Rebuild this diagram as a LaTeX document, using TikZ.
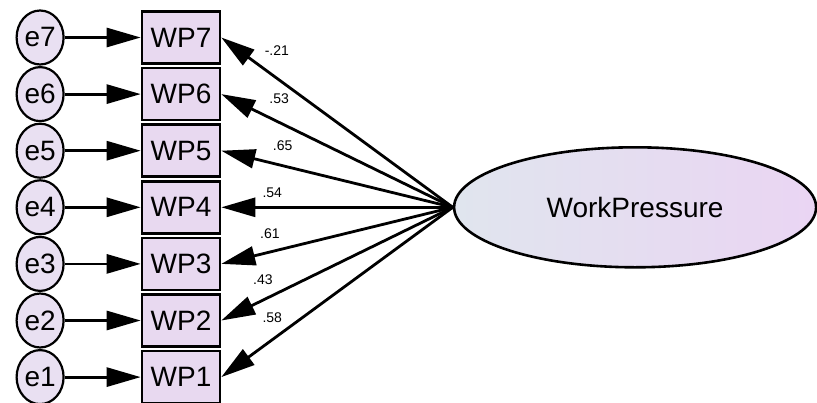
\documentclass[tikz,border=0pt]{standalone}
\usepackage{fontspec}
\setmainfont{Liberation Sans}
\usetikzlibrary{positioning, shapes.geometric, arrows.meta}
\definecolor{boxfill}{HTML}{E8D9F0}
\definecolor{errfill}{HTML}{E9E0F2}
\definecolor{latleft}{HTML}{E0E5EE}
\definecolor{latright}{HTML}{EAD5F3}
\tikzstyle{observed} = [rectangle, minimum width=78pt, minimum height=52pt, inner sep=0pt, draw=black, line width=2.6pt, fill=boxfill, font=\fontsize{28}{30}\selectfont]
\tikzstyle{residual} = [ellipse, minimum width=47pt, minimum height=54pt, inner sep=0pt, draw=black, line width=2.2pt, fill=errfill, font=\fontsize{28}{30}\selectfont]
\tikzstyle{latent} = [ellipse, minimum width=362pt, minimum height=120pt, draw=black, line width=2.6pt, left color=latleft, right color=latright, font=\fontsize{28}{30}\selectfont]
\tikzstyle{connector} = [draw, line width=2.8pt, -{Triangle[length=34pt, width=19pt]}]
\tikzstyle{loading} = [inner sep=0pt, font=\fontsize{14}{16}\selectfont]

\begin{document}
\begin{tikzpicture}[x=1pt, y=-1pt, node distance=2pt and 76pt]
    \useasboundingbox (0,0) rectangle (817,402);
    % Indicators
    \node [observed] (WP7) at (181,37.5) {WP7};
    \node [observed, below=of WP7] (WP6) {WP6};
    \node [observed, below=of WP6] (WP5) {WP5};
    \node [observed, below=of WP5] (WP4) {WP4};
    \node [observed, below=of WP4] (WP3) {WP3};
    \node [observed, below=of WP3] (WP2) {WP2};
    \node [observed, below=of WP2] (WP1) {WP1};

    % Error terms
    \node [residual, left=of WP7] (e7) {e7};
    \node [residual, left=of WP6] (e6) {e6};
    \node [residual, left=of WP5] (e5) {e5};
    \node [residual, left=of WP4] (e4) {e4};
    \node [residual, left=of WP3] (e3) {e3};
    \node [residual, left=of WP2] (e2) {e2};
    \node [residual, left=of WP1] (e1) {e1};

    % Latent factor
    \node [latent, right=231.5pt of WP4] (wp) {WorkPressure};

    % Arrows
    \path [connector] (e7) -- (WP7);
    \path [connector] (e6) -- (WP6);
    \path [connector] (e5) -- (WP5);
    \path [connector] (e4) -- (WP4);
    \path [connector] (e3) -- (WP3);
    \path [connector] (e2) -- (WP2);
    \path [connector] (e1) -- (WP1);

    % Loadings
    \path [connector] (wp.west) -- node[loading, pos=.76, yshift=28pt] (l7) {-.21} (WP7.east);
    \path [connector] (wp.west) -- node[loading, pos=.75, yshift=24pt] (l6) {.53} (WP6.east);
    \path [connector] (wp.west) -- node[loading, pos=.735, yshift=20pt] (l5) {.65} (WP5.east);
    \path [connector] (wp.west) -- node[loading, pos=.78, yshift=15pt] (l4) {.54} (WP4.east);
    \path [connector] (wp.west) -- node[loading, pos=.79, yshift=18pt] (l3) {.61} (WP3.east);
    \path [connector] (wp.west) -- node[loading, pos=.82, yshift=20pt] (l2) {.43} (WP2.east);
    \path [connector] (wp.west) -- node[loading, pos=.78, yshift=22pt] (l1) {.58} (WP1.east);
\end{tikzpicture}
\end{document}
